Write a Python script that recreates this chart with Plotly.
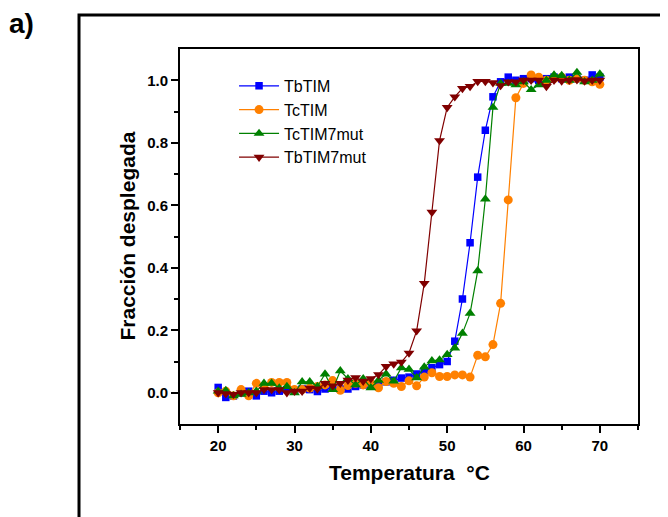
import plotly.graph_objects as go

temperatura = [20, 21, 22, 23, 24, 25, 26, 27, 28, 29,
               30, 31, 32, 33, 34, 35, 36, 37, 38, 39,
               40, 41, 42, 43, 44, 45, 46, 47, 48, 49,
               50, 51, 52, 53, 54, 55, 56, 57, 58, 59,
               60, 61, 62, 63, 64, 65, 66, 67, 68, 69, 70]

tbtim = [0.017, -0.015, -0.010, 0.000, 0.005, -0.010, 0.005, 0.000, 0.005, 0.010,
         0.008, 0.012, 0.010, 0.004, 0.012, 0.015, 0.012, 0.012, 0.020, 0.025,
         0.025, 0.028, 0.035, 0.040, 0.047, 0.050, 0.060, 0.070, 0.080, 0.090,
         0.100, 0.165, 0.300, 0.480, 0.690, 0.840, 0.947, 0.995, 1.010, 1.000,
         1.005, 1.005, 1.000, 1.005, 1.010, 1.005, 1.010, 1.005, 1.000, 1.017, 1.010]

tctim = [0.000, 0.005, -0.010, 0.010, -0.010, 0.030, 0.020, 0.033, 0.033, 0.033,
         0.010, 0.010, 0.015, 0.020, 0.025, 0.039, 0.008, 0.023, 0.030, 0.025,
         0.030, 0.016, 0.036, 0.030, 0.020, 0.038, 0.022, 0.050, 0.064, 0.052,
         0.052, 0.057, 0.057, 0.050, 0.120, 0.115, 0.154, 0.286, 0.617, 0.944,
         0.990, 1.017, 1.010, 1.000, 1.005, 1.010, 1.000, 1.005, 1.000, 0.995, 0.987]

tctim7mut = [0.005, 0.007, -0.010, -0.005, 0.000, 0.005, 0.030, 0.030, 0.015, 0.020,
             0.000, 0.035, 0.035, 0.020, 0.060, 0.010, 0.070, 0.045, 0.025, 0.045,
             0.016, 0.040, 0.060, 0.037, 0.080, 0.075, 0.048, 0.082, 0.102, 0.105,
             0.122, 0.143, 0.190, 0.254, 0.390, 0.620, 0.913, 0.990, 0.990, 0.985,
             0.995, 0.970, 0.985, 1.000, 1.017, 1.015, 1.000, 1.025, 0.995, 1.000, 1.020]

tbtim7mut = [0.000, -0.003, -0.005, 0.000, 0.000, 0.000, 0.010, 0.010, 0.010, 0.000,
             0.005, 0.005, 0.015, 0.012, 0.030, 0.022, 0.030, 0.040, 0.048, 0.037,
             0.045, 0.058, 0.084, 0.092, 0.098, 0.127, 0.198, 0.350, 0.578, 0.807,
             0.913, 0.947, 0.974, 0.980, 0.996, 0.996, 0.992, 0.983, 0.995, 0.995,
             1.000, 1.000, 1.000, 0.980, 1.000, 0.998, 1.000, 1.002, 0.998, 1.000, 1.000]

series = [
    ("TbTIM", tbtim, "#0000FF", "square", 7.5),
    ("TcTIM", tctim, "#FF8000", "circle", 9),
    ("TcTIM7mut", tctim7mut, "#008000", "triangle-up", 9.5),
    ("TbTIM7mut", tbtim7mut, "#800000", "triangle-down", 9.5),
]

font = "Arial, Liberation Sans, sans-serif"

data = []
for name, values, color, symbol, size in series:
    data.append(go.Scatter(
        x=temperatura,
        y=values,
        name=name,
        mode="lines+markers",
        line=dict(color=color, width=1.2),
        marker=dict(color=color, symbol=symbol, size=size, line=dict(width=0)),
    ))

axis_common = dict(
    showline=True,
    linecolor="black",
    linewidth=2,
    mirror=True,
    ticks="outside",
    tickcolor="black",
    tickwidth=1.5,
    ticklen=7,
    showgrid=False,
    zeroline=False,
    tickfont=dict(family=font, size=15, color="black", weight="bold"),
)

# page has an 8px body margin, so the figure is a bit smaller than the window
layout = go.Layout(
    width=660,
    height=509,
    paper_bgcolor="white",
    plot_bgcolor="white",
    margin=dict(l=172, r=30, t=41, b=93),
    showlegend=True,
    legend=dict(
        x=0.118, y=0.947, xanchor="left", yanchor="top",
        bgcolor="rgba(0,0,0,0)",
        font=dict(family=font, size=16, color="black"),
        itemwidth=40,
        tracegroupgap=0,
    ),
    xaxis=dict(
        range=[15, 75],
        tickvals=[20, 30, 40, 50, 60, 70],
        minor=dict(tickvals=[15, 25, 35, 45, 55, 65, 75], ticks="outside",
                   ticklen=4, tickwidth=1.5, tickcolor="black"),
        **axis_common,
    ),
    yaxis=dict(
        range=[-0.1, 1.1],
        tickvals=[0.0, 0.2, 0.4, 0.6, 0.8, 1.0],
        tickformat=".1f",
        minor=dict(tickvals=[0.1, 0.3, 0.5, 0.7, 0.9], ticks="outside",
                   ticklen=4, tickwidth=1.5, tickcolor="black"),
        **axis_common,
    ),
    annotations=[
        dict(text="Temperatura  °C", xref="paper", yref="paper", x=0.5, y=-0.128,
             showarrow=False, xanchor="center", yanchor="middle",
             font=dict(family=font, size=21, color="black", weight="bold")),
        dict(text="Fracción desplegada", xref="paper", yref="paper", x=-0.1157, y=0.5,
             showarrow=False, textangle=-90, xanchor="center", yanchor="middle",
             font=dict(family=font, size=21, color="black", weight="bold")),
        dict(text="a)", xref="paper", yref="paper", x=-0.345, y=1.069,
             showarrow=False, xanchor="center", yanchor="middle",
             font=dict(family=font, size=28, color="black", weight="bold")),
    ],
    shapes=[
        dict(type="rect", xref="paper", yref="paper",
             x0=-0.2205, x1=1.1, y0=-0.3, y1=1.0907,
             line=dict(color="black", width=3), layer="below"),
    ],
)

fig = go.Figure(data, layout)
fig.write_html("out.html")
